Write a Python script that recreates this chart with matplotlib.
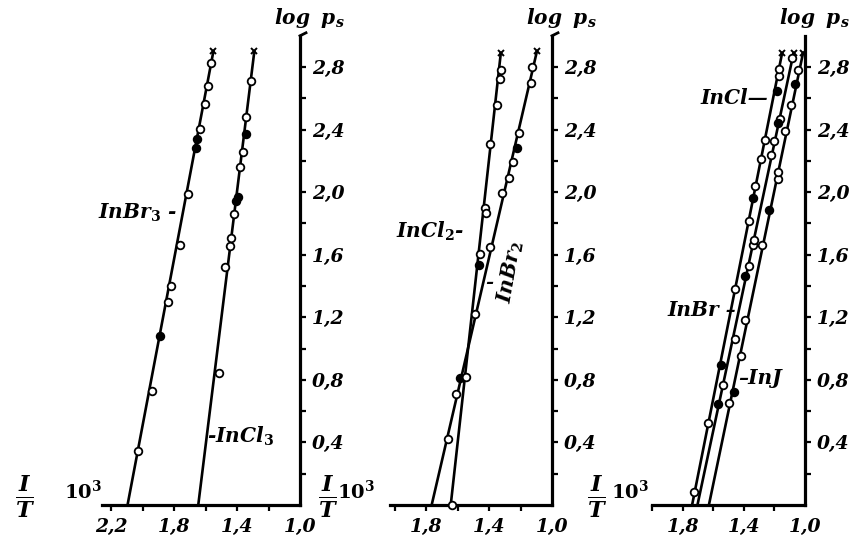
import matplotlib
matplotlib.use('Agg')
import matplotlib.pyplot as plt
from matplotlib.lines import Line2D

plt.rcParams['mathtext.fontset'] = 'custom'
plt.rcParams['mathtext.it'] = 'DejaVu Serif:italic:bold'
plt.rcParams['mathtext.rm'] = 'DejaVu Serif:bold'
plt.rcParams['mathtext.bf'] = 'DejaVu Serif:bold'
plt.rcParams['font.family'] = 'DejaVu Serif'

# ---------------- data (x = 10^3/T, y = log p_s) ----------------
# Panel 1
inbr3_x = [2.030, 1.939, 1.892, 1.839, 1.818, 1.765, 1.712, 1.659, 1.653, 1.634, 1.606, 1.581, 1.564]
inbr3_y = [0.343, 0.726, 1.081, 1.300, 1.402, 1.661, 1.989, 2.281, 2.341, 2.403, 2.565, 2.680, 2.824]
inbr3_f = [0, 0, 1, 0, 0, 0, 0, 1, 1, 0, 0, 0, 0]
inbr3_line_x = [2.095, 1.550]
inbr3_line_y = [0.0, 2.90]

incl3_x = [1.515, 1.479, 1.447, 1.437, 1.416, 1.405, 1.395, 1.378, 1.363, 1.342, 1.342, 1.314]
incl3_y = [0.846, 1.522, 1.654, 1.705, 1.860, 1.942, 1.971, 2.159, 2.259, 2.374, 2.481, 2.713]
incl3_f = [0, 0, 0, 0, 0, 1, 1, 0, 0, 1, 0, 0]
incl3_line_x = [1.646, 1.290]
incl3_line_y = [0.0, 2.90]

# Panel 2
inbr2_x = [1.663, 1.609, 1.587, 1.489, 1.391, 1.315, 1.272, 1.250, 1.207, 1.225, 1.135, 1.130]
inbr2_y = [0.423, 0.710, 0.810, 1.220, 1.650, 1.993, 2.093, 2.192, 2.381, 2.281, 2.697, 2.801]
inbr2_f = [0, 0, 1, 0, 0, 0, 0, 0, 0, 1, 0, 0]
inbr2_line_x = [1.764, 1.096]
inbr2_line_y = [0.0, 2.90]

incl2_x = [1.637, 1.543, 1.466, 1.455, 1.425, 1.420, 1.392, 1.350, 1.332, 1.326]
incl2_y = [0.0, 0.821, 1.535, 1.606, 1.898, 1.867, 2.310, 2.558, 2.723, 2.779]
incl2_f = [0, 0, 1, 0, 0, 0, 0, 0, 0, 0]
incl2_line_x = [1.643, 1.325]
incl2_line_y = [0.0, 2.89]

# Panel 3
incl_x = [1.725, 1.637, 1.552, 1.461, 1.365, 1.339, 1.328, 1.288, 1.263, 1.185, 1.172, 1.168]
incl_y = [0.080, 0.527, 0.898, 1.381, 1.814, 1.965, 2.038, 2.215, 2.336, 2.650, 2.746, 2.790]
incl_f = [0, 0, 1, 0, 0, 1, 0, 0, 0, 1, 0, 0]
incl_line_x = [1.739, 1.150]
incl_line_y = [0.0, 2.889]

inbr_x = [1.568, 1.536, 1.461, 1.394, 1.369, 1.339, 1.333, 1.223, 1.206, 1.180, 1.162, 1.085]
inbr_y = [0.648, 0.765, 1.064, 1.462, 1.529, 1.662, 1.695, 2.237, 2.325, 2.442, 2.469, 2.856]
inbr_f = [1, 0, 0, 1, 0, 0, 0, 0, 0, 1, 0, 0]
inbr_line_x = [1.704, 1.075]
inbr_line_y = [0.0, 2.889]

inj_x = [1.495, 1.467, 1.420, 1.390, 1.282, 1.237, 1.180, 1.176, 1.129, 1.091, 1.068, 1.048]
inj_y = [0.655, 0.721, 0.954, 1.186, 1.662, 1.883, 2.082, 2.126, 2.392, 2.558, 2.690, 2.779]
inj_f = [0, 1, 0, 0, 0, 1, 0, 0, 0, 0, 1, 0]
inj_line_x = [1.629, 1.013]
inj_line_y = [0.0, 2.889]

# ticks
y_major = [0.4, 0.8, 1.2, 1.6, 2.0, 2.4, 2.8]
y_minor = [0.2, 0.6, 1.0, 1.4, 1.8, 2.2, 2.6]
y_labels = ['0,4', '0,8', '1,2', '1,6', '2,0', '2,4', '2,8']
p1_xmajor = [2.2, 1.8, 1.4, 1.0]
p1_xminor = [2.0, 1.6, 1.2]
p1_xlabels = ['2,2', '1,8', '1,4', '1,0']
p23_xmajor = [1.8, 1.4, 1.0]
p23_xminor = [2.0, 1.6, 1.2]
p23_xlabels = ['1,8', '1,4', '1,0']

# ---------------- layout ----------------
W, H = 852, 544
fig = plt.figure(figsize=(W / 100, H / 100), dpi=100)
SX, SY = 157.5, 156.4      # px per unit
Y0 = 505                    # px of y = 0
YTOP = 3.0

FONT = dict(family='DejaVu Serif', weight='bold', style='italic')


def make_ax(right_px, xmax, xmajor, xminor, xlabels, hook=True):
    left_px = right_px - (xmax - 1.0) * SX
    ax = fig.add_axes([left_px / W, (H - Y0) / H, (right_px - left_px) / W, YTOP * SY / H])
    ax.set_xlim(xmax, 1.0)
    ax.set_ylim(0, YTOP)
    ax.patch.set_alpha(0)
    for s in ['left', 'top']:
        ax.spines[s].set_visible(False)
    for s in ['right', 'bottom']:
        ax.spines[s].set_linewidth(2.3)
        ax.spines[s].set_capstyle('projecting')
    ax.yaxis.tick_right()
    ax.set_yticks(y_major)
    ax.set_yticks(y_minor, minor=True)
    ax.set_yticklabels(y_labels, fontsize=13.5, **FONT)
    ax.set_xticks(xmajor)
    ax.set_xticks(xminor, minor=True)
    ax.set_xticklabels(xlabels, fontsize=13.5, **FONT)
    ax.tick_params(axis='y', which='both', direction='out', length=4.5, width=1.6, pad=4)
    ax.tick_params(axis='x', which='both', direction='out', length=4.0, width=1.6, pad=5)
    ax.xaxis.get_major_ticks()[-1].tick1line.set_visible(False)
    if hook:
        ax.add_line(Line2D([1.0, 1.0 + 6 / ((right_px - left_px))], [1.0, 1.0 + 3 / (YTOP * SY)],
                           transform=ax.transAxes, color='black', lw=2.0, clip_on=False))
    # axis titles
    fig.text((right_px + 9) / W, 1 - 18 / H, r'$log\;\;p_s$', fontsize=14.5, ha='center', va='center')
    return ax


def series(ax, xs, ys, fs, lx, ly):
    ax.plot(lx, ly, color='black', lw=1.9, clip_on=False, zorder=2)
    ax.plot([lx[-1]], [ly[-1]], marker='x', color='black', ms=5, mew=1.4, clip_on=False, zorder=3)
    ox = [x for x, f in zip(xs, fs) if not f]
    oy = [y for y, f in zip(ys, fs) if not f]
    fx = [x for x, f in zip(xs, fs) if f]
    fy = [y for y, f in zip(ys, fs) if f]
    ax.plot(ox, oy, 'o', ms=5.5, mfc='white', mec='black', mew=1.3, clip_on=False, zorder=4)
    ax.plot(fx, fy, 'o', ms=5.5, mfc='black', mec='black', mew=1.3, clip_on=False, zorder=4)


# Panel 1
ax1 = make_ax(300, 2.26, p1_xmajor, p1_xminor, p1_xlabels)
series(ax1, inbr3_x, inbr3_y, inbr3_f, inbr3_line_x, inbr3_line_y)
series(ax1, incl3_x, incl3_y, incl3_f, incl3_line_x, incl3_line_y)
ax1.text(1.78, 1.87, r'InBr$_3$ -', fontsize=14.5, ha='right', va='center', **FONT)
ax1.text(1.59, 0.44, r'-InCl$_3$', fontsize=14.5, ha='left', va='center', **FONT)

# Panel 2
ax2 = make_ax(552, 2.03, p23_xmajor, p23_xminor, p23_xlabels)
series(ax2, inbr2_x, inbr2_y, inbr2_f, inbr2_line_x, inbr2_line_y)
series(ax2, incl2_x, incl2_y, incl2_f, incl2_line_x, incl2_line_y)
ax2.text(1.56, 1.75, r'InCl$_2$-', fontsize=14.5, ha='right', va='center', **FONT)
ax2.text(1.266, 1.49, r'InBr$_2$', fontsize=14.5, ha='center', va='center', rotation=80, **FONT)
ax2.text(1.40, 1.42, '-', fontsize=14, ha='center', va='center', **FONT)

# Panel 3
ax3 = make_ax(805, 1.97, p23_xmajor, p23_xminor, p23_xlabels, hook=False)
series(ax3, incl_x, incl_y, incl_f, incl_line_x, incl_line_y)
series(ax3, inbr_x, inbr_y, inbr_f, inbr_line_x, inbr_line_y)
series(ax3, inj_x, inj_y, inj_f, inj_line_x, inj_line_y)
ax3.text(1.243, 2.60, 'InCl\u2014', fontsize=14.5, ha='right', va='center', **FONT)
ax3.text(1.45, 1.25, 'InBr \u2013', fontsize=14.5, ha='right', va='center', **FONT)
ax3.text(1.44, 0.81, '\u2013InJ', fontsize=14.5, ha='left', va='center', **FONT)

# 1/T 10^3 labels
for fx, tx in [(25, 83), (328, 356), (597, 630)]:
    fig.text(fx / W, 1 - 497 / H, r'$\frac{I}{T}$', fontsize=23, ha='center', va='center')
    fig.text(tx / W, 1 - 491 / H, r'$\mathit{10}^{\mathit{3}}$', fontsize=14, ha='center', va='center')

fig.savefig('out.png', dpi=100)
